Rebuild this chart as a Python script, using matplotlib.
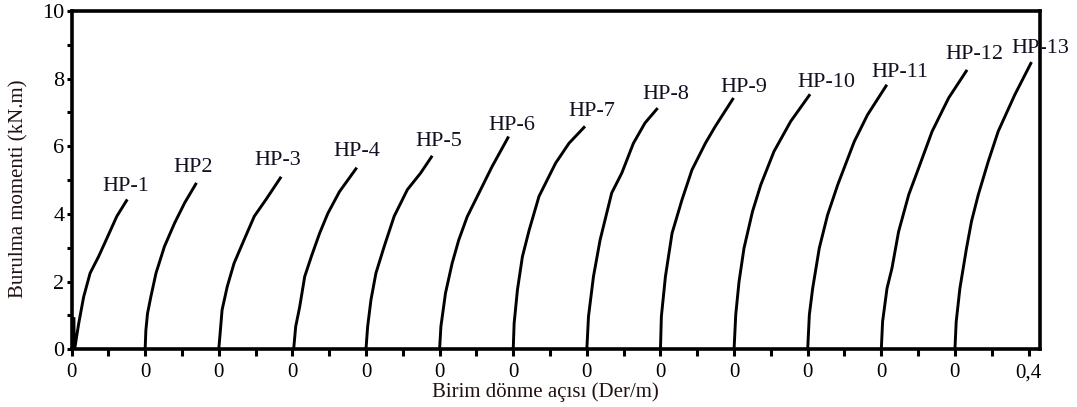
import matplotlib
matplotlib.use("Agg")
import matplotlib.pyplot as plt
from matplotlib.ticker import FixedLocator, FixedFormatter

plt.rcParams['font.family'] = ['Liberation Serif', 'DejaVu Serif']

# Specimen names, in the order they are laid out along the axis
specimens = ["HP-1", "HP2", "HP-3", "HP-4", "HP-5", "HP-6", "HP-7",
             "HP-8", "HP-9", "HP-10", "HP-11", "HP-12", "HP-13"]

# Width of one specimen's strip on the angle axis (Der/m)
segment = 0.4

# Unit twist angle (Der/m) and torque (kN.m) for each specimen
hp1_theta = [0.013, 0.015, 0.019, 0.039, 0.066, 0.101, 0.147, 0.193, 0.246, 0.303]
hp1_moment = [0.95, 0.00, 0.07, 0.76, 1.55, 2.25, 2.74, 3.29, 3.93, 4.43]

hp2_theta = [0.000, 0.004, 0.013, 0.031, 0.059, 0.105, 0.160, 0.215, 0.279]
hp2_moment = [0.00, 0.56, 1.06, 1.55, 2.25, 3.04, 3.73, 4.33, 4.92]

hp3_theta = [0.000, 0.006, 0.018, 0.046, 0.083, 0.138, 0.193, 0.257, 0.339]
hp3_moment = [0.00, 0.37, 1.16, 1.85, 2.54, 3.24, 3.93, 4.43, 5.10]

hp4_theta = [0.007, 0.018, 0.040, 0.067, 0.103, 0.148, 0.193, 0.256, 0.350]
hp4_moment = [0.00, 0.67, 1.26, 2.15, 2.74, 3.43, 4.02, 4.66, 5.37]

hp5_theta = [0.000, 0.009, 0.027, 0.054, 0.099, 0.153, 0.225, 0.297, 0.360]
hp5_moment = [0.00, 0.67, 1.46, 2.25, 3.04, 3.93, 4.72, 5.21, 5.72]

hp6_theta = [0.000, 0.007, 0.032, 0.068, 0.104, 0.150, 0.213, 0.285, 0.375]
hp6_moment = [0.00, 0.67, 1.66, 2.54, 3.23, 3.92, 4.61, 5.40, 6.29]

hp7_theta = [0.000, 0.005, 0.023, 0.050, 0.087, 0.140, 0.230, 0.303, 0.390]
hp7_moment = [0.00, 0.77, 1.76, 2.74, 3.53, 4.52, 5.50, 6.09, 6.59]

hp8_theta = [0.000, 0.009, 0.036, 0.072, 0.135, 0.190, 0.253, 0.316, 0.385]
hp8_moment = [0.00, 0.97, 2.15, 3.23, 4.62, 5.21, 6.09, 6.69, 7.13]

hp9_theta = [0.000, 0.005, 0.027, 0.063, 0.117, 0.171, 0.244, 0.298, 0.397]
hp9_moment = [0.00, 0.97, 2.15, 3.43, 4.42, 5.30, 6.09, 6.59, 7.43]

hp10_theta = [0.000, 0.009, 0.027, 0.054, 0.100, 0.145, 0.217, 0.308, 0.413]
hp10_moment = [0.00, 1.02, 2.00, 2.99, 4.07, 4.86, 5.85, 6.74, 7.54]

hp11_theta = [0.000, 0.009, 0.027, 0.063, 0.108, 0.163, 0.253, 0.325, 0.430]
hp11_moment = [0.00, 1.02, 1.80, 2.99, 3.97, 4.86, 6.14, 6.93, 7.82]

hp12_theta = [0.000, 0.007, 0.031, 0.058, 0.094, 0.149, 0.203, 0.276, 0.366, 0.466]
hp12_moment = [0.00, 0.82, 1.80, 2.40, 3.48, 4.57, 5.36, 6.44, 7.43, 8.26]

hp13_theta = [0.000, 0.007, 0.027, 0.063, 0.090, 0.127, 0.181, 0.235, 0.325, 0.416]
hp13_moment = [0.00, 0.82, 1.80, 2.99, 3.78, 4.57, 5.55, 6.44, 7.52, 8.49]

thetas = [hp1_theta, hp2_theta, hp3_theta, hp4_theta, hp5_theta, hp6_theta, hp7_theta,
          hp8_theta, hp9_theta, hp10_theta, hp11_theta, hp12_theta, hp13_theta]
moments = [hp1_moment, hp2_moment, hp3_moment, hp4_moment, hp5_moment, hp6_moment,
           hp7_moment, hp8_moment, hp9_moment, hp10_moment, hp11_moment, hp12_moment,
           hp13_moment]

# Tick labels along the angle axis: each strip restarts at 0
x_tick_labels = ["0"] * len(specimens) + ["0,4"]
y_ticks = [0, 2, 4, 6, 8, 10]

# Label offsets from each curve's end point (pixels: right, up)
label_offsets = [(-1.5, 12.5), (-3, 15), (-3.5, 16), (0.5, 16), (7, 14.5), (3.5, 11),
                 (6.5, 15), (8, 14), (10, 10.5), (16, 11.5), (13, 12.5), (7, 15.5),
                 (9, 14)]

fig = plt.figure(figsize=(10.77, 4.07), dpi=100)
ax = fig.add_axes([0.0664, 0.1418, 0.8992, 0.8312])

for i, (name, th, m) in enumerate(zip(specimens, thetas, moments)):
    start = i * segment
    xs = [start + t for t in th]
    ax.plot(xs, m, color="black", lw=2.1, solid_capstyle="butt",
            solid_joinstyle="round")
    dx, dy = label_offsets[i]
    ax.annotate(name, (xs[-1], m[-1]), xytext=(dx * 0.72, dy * 0.72),
                textcoords="offset points", ha="center", va="center",
                fontsize=16, color="#111122", annotation_clip=False)

n = len(specimens)
ax.set_xlim(0, 5.262)
ax.set_ylim(0, 10)

ax.xaxis.set_major_locator(FixedLocator([i * segment for i in range(n + 1)]))
ax.xaxis.set_major_formatter(FixedFormatter(x_tick_labels))
ax.xaxis.set_minor_locator(FixedLocator([i * segment + segment / 2 for i in range(n)]))
ax.set_yticks(y_ticks)
ax.set_yticklabels([str(v) for v in y_ticks])
ax.yaxis.set_minor_locator(FixedLocator([1, 3, 5, 7, 9]))

for side in ["left", "right", "top", "bottom"]:
    ax.spines[side].set_linewidth(2.6)
    ax.spines[side].set_color("black")

ax.tick_params(axis="x", which="both", direction="out", length=5, width=2.2,
               labelsize=15, pad=5, color="black")
ax.tick_params(axis="y", which="both", direction="out", length=3.5, width=2.2,
               labelsize=16, pad=1.5, color="black")
ax.tick_params(right=False, top=False, which="both")

ax.set_xlabel("Birim dönme açısı (Der/m)", fontsize=15, color="#221111")
ax.set_ylabel("Burulma momenti (kN.m)", fontsize=15, color="#221111")
ax.xaxis.set_label_coords(0.489, -0.098)
ax.yaxis.set_label_coords(-0.044, 0.474)

fig.savefig("out.png", dpi=100)
